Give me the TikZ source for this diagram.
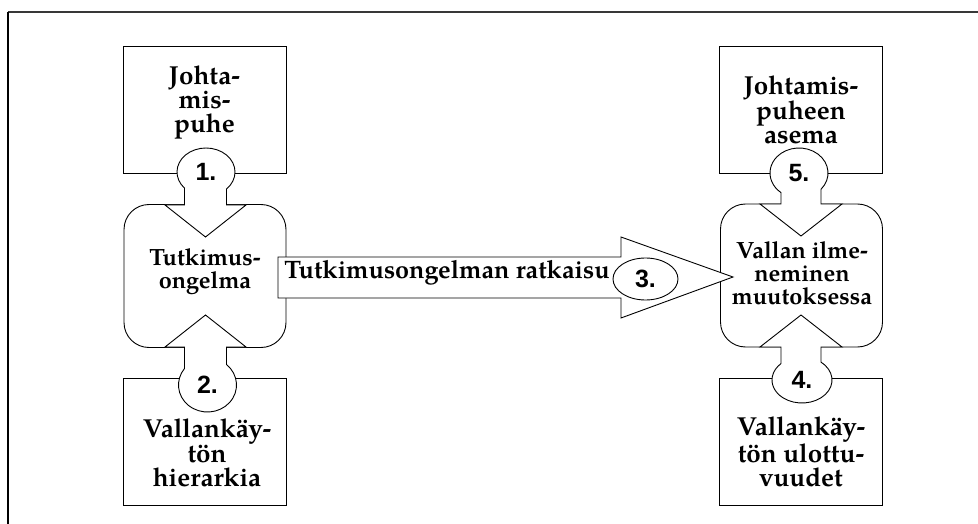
\documentclass[tikz,border=0pt]{standalone}
\usepackage{fontspec}
\setmainfont{texgyrepagella}[Extension=.otf,UprightFont=*-regular,BoldFont=*-bold,ItalicFont=*-italic,BoldItalicFont=*-bolditalic]
\newfontfamily\numfont{Liberation Sans}
\usetikzlibrary{shapes.geometric}

% block arrow pointing down out of an ellipse tab: the outline is the union
% #1 axis x, #2 base y, #3 tip y, #4/#5 ellipse centre, #6/#7 radii,
% #8 shaft half width, #9 head half width
\newcommand\downtab[9]{%
  \pgfmathsetmacro\angR{acos((#1+#8-#4)/#6)}%
  \pgfmathsetmacro\angL{acos((#1-#8-#4)/#6)}%
  \filldraw[tab] (#1-#9,#2) -- (#1,#3) -- (#1+#9,#2) -- (#1+#8,#2)
    -- ({#4+#6*cos(\angR)},{#5+#7*sin(\angR)})
    arc[start angle=\angR, end angle=\angL-360, x radius=#6, y radius=#7]
    -- (#1-#8,#2) -- cycle;}
% the same, pointing up, the ellipse below
\newcommand\uptab[9]{%
  \pgfmathsetmacro\angR{acos((#1+#8-#4)/#6)}%
  \pgfmathsetmacro\angL{acos((#1-#8-#4)/#6)}%
  \filldraw[tab] (#1-#9,#2) -- (#1,#3) -- (#1+#9,#2) -- (#1+#8,#2)
    -- ({#4+#6*cos(\angR)},{#5-#7*sin(\angR)})
    arc[start angle=-\angR, end angle=360-\angL, x radius=#6, y radius=#7]
    -- (#1-#8,#2) -- cycle;}

\begin{document}
\begin{tikzpicture}[x=1pt,y=-1pt,
  outline/.style={draw=black,line width=0.9pt},
  tab/.style={outline,fill=white,line join=miter},
  plainbox/.style={outline,fill=white,rectangle,minimum width=163pt,minimum height=127pt,inner sep=0pt},
  roundbox/.style={outline,fill=white,rectangle,rounded corners=25pt,minimum width=162pt,minimum height=143pt,inner sep=0pt},
  boxtext/.style={align=center,inner sep=0pt,font=\bfseries\fontsize{26}{24}\selectfont},
  midtext/.style={align=center,inner sep=0pt,font=\bfseries\fontsize{23.5}{23}\selectfont},
  arrowtext/.style={inner sep=0pt,font=\bfseries\fontsize{25.2}{26}\selectfont},
  numtext/.style={inner sep=0pt,font=\numfont\bfseries\fontsize{25}{25}\selectfont},
]
\useasboundingbox (0,0) rectangle (978,524);

% frame edges
\draw[color=black!78,line width=2pt] (8,12) -- (978,12);
\draw[black,line width=1.4pt] (8,12) -- (8,524);

% outer boxes
\node[plainbox] (b1) at (204.5,109.5) {};
\node[plainbox] (b2) at (205,441.5) {};
\node[plainbox] (b5) at (801,109.5) {};
\node[plainbox] (b4) at (801,441.5) {};

% central rounded boxes
\node[roundbox] (r1) at (205,276) {};
\node[roundbox] (r2) at (801.5,275.5) {};

% tabs with arrowheads into the rounded boxes
\downtab{205.5}{205}{237}{206}{172}{29}{24}{21}{40.5}
\uptab{205.5}{347}{315}{207.5}{385}{29}{27}{21}{40.5}
\downtab{801}{204}{236}{799}{173}{29}{25}{20}{41}
\uptab{801}{347}{315}{802}{380}{30}{23}{20}{41}

% horizontal block arrow
\filldraw[tab] (278,257) -- (621,257) -- (621,237) -- (733,277)
  -- (621,318) -- (621,298) -- (278,298) -- cycle;
\node[outline,fill=white,ellipse,minimum width=65pt,minimum height=42pt,inner sep=0pt] (c3) at (645.5,279) {};

% ellipse centres
\coordinate (c1) at (206,172);
\coordinate (c2) at (207.5,385);
\coordinate (c5) at (799,173);
\coordinate (c4) at (802,380);

% numbers
\node[numtext] (n1) at (c1) {1.};
\node[numtext] (n2) at (c2) {2.};
\node[numtext] (n3) at (c3) {3.};
\node[numtext] (n4) at (c4) {4.};
\node[numtext] (n5) at (c5) {5.};

% texts
\node[boxtext] (t1) at (204.5,102) {Johta-\\mis-\\puhe};
\node[boxtext] (t2) at (207,453) {Vallankäy-\\tön\\hierarkia};
\node[boxtext] (t5) at (801,110) {Johtamis-\\puheen\\asema};
\node[boxtext] (t4) at (801,452) {Vallankäy-\\tön ulottu-\\vuudet};
\node[midtext] (tm1) at (205,272) {Tutkimus-\\ongelma};
\node[midtext] (tm2) at (802,273) {Vallan ilme-\\neminen\\muutoksessa};
\node[arrowtext,anchor=base] (ta) at (447,278) {Tutkimusongelman ratkaisu};
\end{tikzpicture}
\end{document}
